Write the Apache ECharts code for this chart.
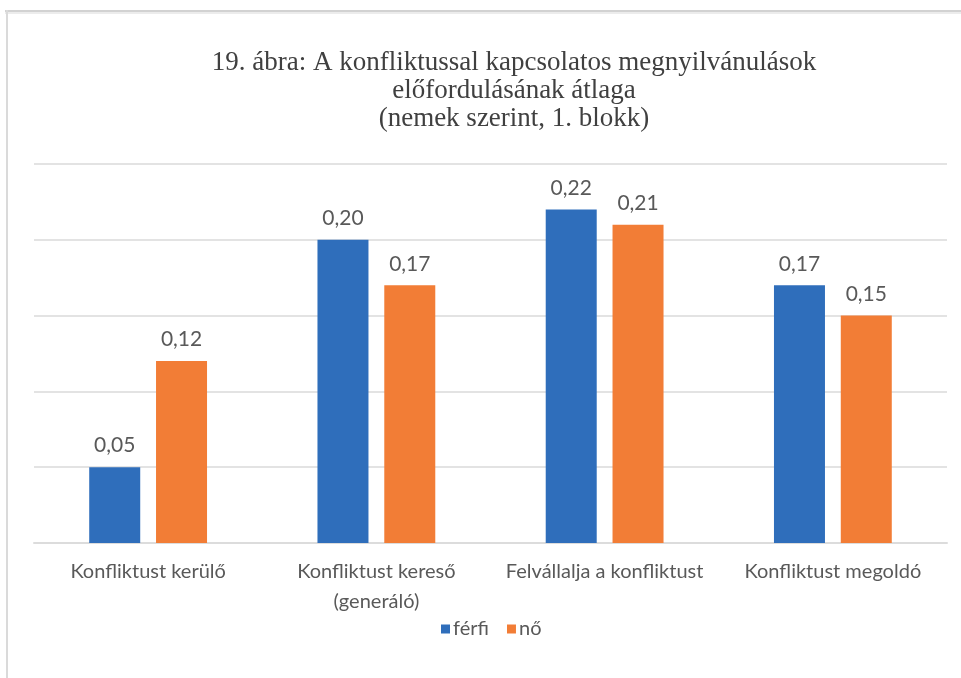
<!DOCTYPE html>
<html>
<head>
<meta charset="utf-8">
<script src="https://cdn.jsdelivr.net/npm/echarts@6/dist/echarts.min.js"></script>
<style>
  html, body { margin: 0; padding: 0; background: #ffffff; }
  #chart { width: 961px; height: 678px; }
</style>
</head>
<body>
<div id="chart"></div>
<script>
// Categories (x axis)
const categories = [
  'Konfliktust kerülő',
  'Konfliktust kereső\n(generáló)',
  'Felvállalja a konfliktust',
  'Konfliktust megoldó'
];

// Series values
const ferfi = [0.05, 0.20, 0.22, 0.17];
const no = [0.12, 0.17, 0.21, 0.15];

// Series names
const seriesNames = ['férfi', 'nő'];

// Title lines
const titleLines = [
  '19. ábra: A konfliktussal kapcsolatos megnyilvánulások',
  'előfordulásának átlaga',
  '(nemek szerint, 1. blokk)'
];

const labelFont = 'Lato, "Open Sans", sans-serif';
const fmt = v => v.toFixed(2).replace('.', ',');

const chart = echarts.init(document.getElementById('chart'), null, { renderer: 'canvas' });

chart.setOption({
  backgroundColor: '#ffffff',
  animation: false,
  title: {
    text: titleLines.join('\n'),
    left: 509,
    textAlign: 'center',
    top: 44,
    textStyle: {
      fontFamily: '"Liberation Serif", "DejaVu Serif", serif',
      fontWeight: 'normal',
      fontSize: 27,
      lineHeight: 28,
      color: '#404040'
    }
  },
  graphic: [
    // frame edges
    { type: 'rect', shape: { x: 5, y: 10, width: 956, height: 2 }, style: { fill: '#d2d2d2' }, silent: true },
    { type: 'rect', shape: { x: 5, y: 12, width: 956, height: 2 }, style: { fill: '#ececec' }, silent: true },
    { type: 'rect', shape: { x: 6, y: 10, width: 2, height: 668 }, style: { fill: '#dadada' }, silent: true }
  ],
  legend: {
    data: seriesNames,
    left: 436,
    top: 614,
    itemWidth: 9,
    itemHeight: 9,
    itemGap: 18,
    icon: 'rect',
    textStyle: { fontFamily: labelFont, fontSize: 20, color: '#595959', padding: [0, 0, 0, -2] }
  },
  grid: {
    left: 34,
    right: 14,
    top: 164,
    bottom: 135,
    containLabel: false
  },
  xAxis: {
    type: 'category',
    data: categories,
    axisLine: { show: true, lineStyle: { color: '#dcdcdc', width: 2 } },
    axisTick: { show: false },
    axisLabel: {
      interval: 0,
      margin: 14,
      fontFamily: labelFont,
      fontSize: 20,
      lineHeight: 30,
      color: '#595959'
    }
  },
  yAxis: {
    type: 'value',
    min: 0,
    max: 0.25,
    interval: 0.05,
    axisLine: { show: false },
    axisTick: { show: false },
    axisLabel: { show: false },
    splitLine: { lineStyle: { color: '#e3e3e3', width: 2 } }
  },
  series: [
    {
      name: seriesNames[0],
      type: 'bar',
      data: ferfi,
      barWidth: 51,
      barGap: '31%',
      itemStyle: { color: '#2f6ebb' },
      label: {
        show: true,
        position: 'top',
        distance: 11,
        formatter: p => fmt(p.value),
        fontFamily: labelFont,
        fontSize: 21,
        color: '#595959'
      }
    },
    {
      name: seriesNames[1],
      type: 'bar',
      data: no,
      barWidth: 51,
      itemStyle: { color: '#f27d36' },
      label: {
        show: true,
        position: 'top',
        distance: 11,
        formatter: p => fmt(p.value),
        fontFamily: labelFont,
        fontSize: 21,
        color: '#595959'
      }
    }
  ]
});
</script>
</body>
</html>
